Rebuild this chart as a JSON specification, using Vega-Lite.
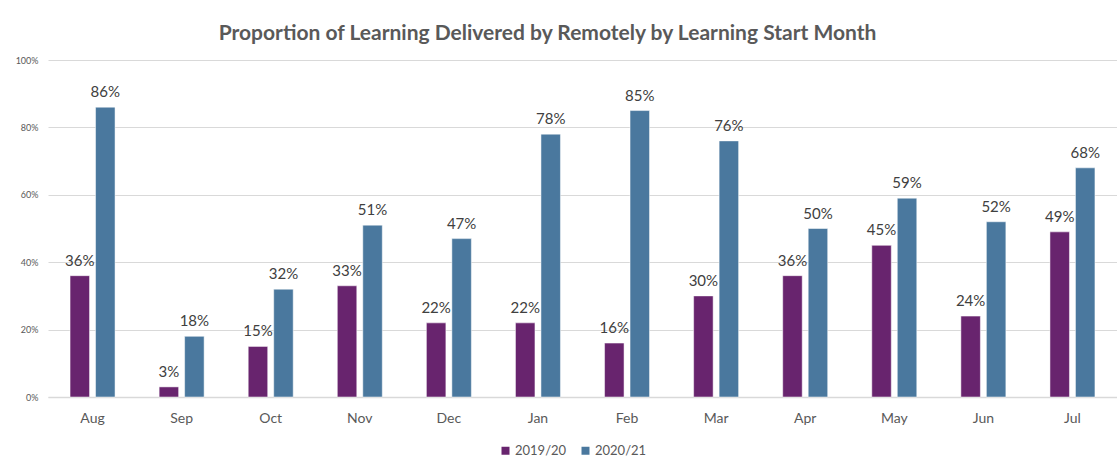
{
  "$schema": "https://vega.github.io/schema/vega-lite/v6.json",
  "width": 1069,
  "height": 337,
  "autosize": "none",
  "padding": {"left": 48, "top": 60, "right": 0, "bottom": 70},
  "background": "white",
  "title": {
    "text": "Proportion of Learning Delivered by Remotely by Learning Start Month",
    "font": "Lato",
    "fontSize": 21,
    "fontWeight": "bold",
    "color": "#595959",
    "anchor": "middle",
    "frame": "group",
    "dx": -35,
    "offset": 12
  },
  "data": {
    "values": [
      {"month": "Aug", "year": "2019/20", "value": 0.36},
      {"month": "Aug", "year": "2020/21", "value": 0.86},
      {"month": "Sep", "year": "2019/20", "value": 0.03},
      {"month": "Sep", "year": "2020/21", "value": 0.18},
      {"month": "Oct", "year": "2019/20", "value": 0.15},
      {"month": "Oct", "year": "2020/21", "value": 0.32},
      {"month": "Nov", "year": "2019/20", "value": 0.33},
      {"month": "Nov", "year": "2020/21", "value": 0.51},
      {"month": "Dec", "year": "2019/20", "value": 0.22},
      {"month": "Dec", "year": "2020/21", "value": 0.47},
      {"month": "Jan", "year": "2019/20", "value": 0.22},
      {"month": "Jan", "year": "2020/21", "value": 0.78},
      {"month": "Feb", "year": "2019/20", "value": 0.16},
      {"month": "Feb", "year": "2020/21", "value": 0.85},
      {"month": "Mar", "year": "2019/20", "value": 0.30},
      {"month": "Mar", "year": "2020/21", "value": 0.76},
      {"month": "Apr", "year": "2019/20", "value": 0.36},
      {"month": "Apr", "year": "2020/21", "value": 0.50},
      {"month": "May", "year": "2019/20", "value": 0.45},
      {"month": "May", "year": "2020/21", "value": 0.59},
      {"month": "Jun", "year": "2019/20", "value": 0.24},
      {"month": "Jun", "year": "2020/21", "value": 0.52},
      {"month": "Jul", "year": "2019/20", "value": 0.49},
      {"month": "Jul", "year": "2020/21", "value": 0.68}
    ]
  },
  "encoding": {
    "x": {
      "field": "month",
      "type": "nominal",
      "sort": ["Aug","Sep","Oct","Nov","Dec","Jan","Feb","Mar","Apr","May","Jun","Jul"],
      "scale": {"paddingInner": 0.495, "paddingOuter": 0.2475},
      "axis": {
        "title": null,
        "labelAngle": 0,
        "labelFont": "Lato",
        "labelFontSize": 14,
        "labelColor": "#595959",
        "labelPadding": 14,
        "ticks": false,
        "domainColor": "#d9d9d9",
        "domainWidth": 1.5
      }
    },
    "xOffset": {
      "field": "year",
      "type": "nominal",
      "scale": {"paddingInner": 0.235, "paddingOuter": 0}
    },
    "y": {
      "field": "value",
      "type": "quantitative",
      "scale": {"domain": [0, 1], "nice": false},
      "axis": {
        "title": null,
        "values": [0, 0.2, 0.4, 0.6, 0.8, 1],
        "format": ".0%",
        "labelFont": "Lato",
        "labelFontSize": 9,
        "labelColor": "#595959",
        "labelPadding": 10,
        "ticks": false,
        "domain": false,
        "gridColor": "#d9d9d9",
        "gridWidth": 1
      }
    }
  },
  "layer": [
    {
      "mark": {"type": "bar", "stroke": "white", "strokeWidth": 0.5},
      "encoding": {
        "color": {
          "field": "year",
          "type": "nominal",
          "scale": {"domain": ["2019/20", "2020/21"], "range": ["#68246E", "#4A789E"]},
          "legend": {
            "title": null,
            "orient": "none",
            "direction": "horizontal",
            "legendX": 451,
            "legendY": 384,
            "symbolType": "square",
            "symbolSize": 64,
            "symbolStrokeWidth": 0,
            "labelFont": "Lato",
            "labelFontSize": 13,
            "labelColor": "#595959",
            "labelOffset": 3,
            "columnPadding": 12
          }
        }
      }
    },
    {
      "mark": {"type": "text", "baseline": "bottom", "dy": -7, "font": "Lato", "fontSize": 15, "color": "#404040"},
      "encoding": {
        "text": {"field": "value", "type": "quantitative", "format": ".0%"}
      }
    }
  ],
  "config": {"view": {"stroke": null}}
}
